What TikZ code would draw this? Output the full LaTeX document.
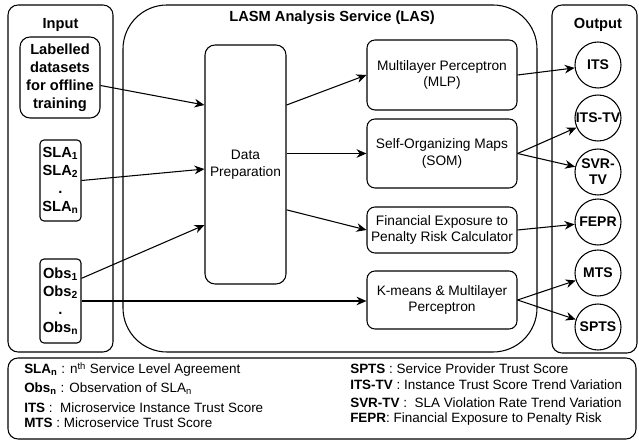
\documentclass[tikz,border=0pt]{standalone}
\usepackage{fontspec}
\setmainfont{Liberation Sans}
\usetikzlibrary{arrows.meta, positioning}

\begin{document}
\begin{tikzpicture}[
    x=0.75pt, y=-0.75pt,
    every node/.style={font=\fontsize{10.3}{12.4}\selectfont},
    group/.style={rectangle, draw, rounded corners=7.5pt, line width=0.8pt},
    grouptitle/.style={font=\fontsize{11}{13}\selectfont\bfseries},
    inbox/.style={rectangle, draw, rounded corners=3pt, line width=0.8pt, align=center, inner sep=0pt, font=\fontsize{11}{13.5}\selectfont\bfseries},
    model/.style={rectangle, draw, rounded corners=6pt, line width=0.8pt, minimum width=112.5pt, inner sep=2pt, align=center},
    result/.style={circle, draw, line width=0.8pt, minimum size=34.5pt, inner sep=0pt, align=center, font=\fontsize{10.5}{12}\selectfont\bfseries},
    key/.style={anchor=base west, inner sep=0pt, font=\fontsize{10.1}{12}\selectfont},
    arrow/.style={-{Stealth[length=7.5pt, width=6.5pt]}, line width=0.8pt},
]
\useasboundingbox (0,0) rectangle (639,441);

% Input column
\node[group, minimum width=78.75pt, minimum height=260.25pt] (input) at (60.5,178.5) {};
\node[grouptitle] (inputtitle) at (60.5,25) {Input};
\node[inbox, rounded corners=7.5pt, minimum width=60pt, minimum height=60.75pt] (labelled) at (60,77.5) {Labelled\\datasets\\for offline\\training};
\node[inbox, minimum width=30.75pt, minimum height=60.75pt] (sla) at (60.5,180.5) {SLA\textsubscript{1}\\SLA\textsubscript{2}\\.\\SLA\textsubscript{n}};
\node[inbox, minimum width=30.75pt, minimum height=63pt] (obs) at (60.5,301) {Obs\textsubscript{1}\\Obs\textsubscript{2}\\.\\Obs\textsubscript{n}};

% Analysis service
\node[group, rounded corners=33pt, minimum width=310.5pt, minimum height=260.25pt] (las) at (330,178.5) {};
\node[grouptitle] (lastitle) at (332,18) {LASM Analysis Service (LAS)};
\node[model, rounded corners=7.5pt, minimum width=60.75pt, minimum height=179.25pt] (prep) at (245.5,164.5) {Data\\Preparation};
\node[model, minimum height=52.5pt] (mlp) at (442,75) {Multilayer Perceptron\\(MLP)};
\node[model, minimum height=51.75pt] (som) at (442,153.5) {Self-Organizing Maps\\(SOM)};
\node[model, minimum height=34.5pt] (fin) at (442,230) {Financial Exposure to\\Penalty Risk Calculator};
\node[model, minimum height=43.5pt] (kmeans) at (442,300) {K-means \& Multilayer\\Perceptron};

% Output column
\node[group, minimum width=63.75pt, minimum height=261pt] (output) at (594.5,179) {};
\node[grouptitle] (outputtitle) at (598,25) {Output};
\node[result] (its) at (598,65) {ITS};
\node[result] (itstv) at (598,118) {ITS-TV};
\node[result] (svrtv) at (598,172) {SVR-\\TV};
\node[result] (fepr) at (598,222) {FEPR};
\node[result] (mts) at (598,273) {MTS};
\node[result] (spts) at (598,327) {SPTS};

% Legend
\node[group, minimum width=471pt, minimum height=60.75pt] (legend) at (322,398.5) {};
\node[key] (kslan) at (24,374) {\textbf{SLA\textsubscript{n}} : n\textsuperscript{th} Service Level Agreement};
\node[key] (kobsn) at (24,393) {\textbf{Obs\textsubscript{n}} : Observation of SLA\textsubscript{n}};
\node[key] (kits) at (24,412) {\textbf{ITS} :\ \ Microservice Instance Trust Score};
\node[key] (kmts) at (24,428) {\textbf{MTS} : Microservice Trust Score};
\node[key] (kspts) at (350,374) {\textbf{SPTS} : Service Provider Trust Score};
\node[key] (kitstv) at (350,390) {\textbf{ITS-TV} : Instance Trust Score Trend Variation};
\node[key] (ksvrtv) at (350,407) {\textbf{SVR-TV} :\ \ SLA Violation Rate Trend Variation};
\node[key] (kfepr) at (350,423) {\textbf{FEPR}: Financial Exposure to Penalty Risk};

% Inputs to data preparation
\draw[arrow] ([yshift=-6pt]labelled.east) -- ([yshift=44.6pt]prep.west);
\draw[arrow] (sla.east) -- ([yshift=-3.4pt]prep.west);
\draw[arrow] ([yshift=17pt]obs.east) -- ([yshift=-45.4pt]prep.west);
\draw[arrow] (obs.east) -- (obs.east -| kmeans.west);

% Data preparation to models
\draw[arrow] ([yshift=44.6pt]prep.east) -- (mlp.west);
\draw[arrow] (prep.east |- som.west) -- (som.west);
\draw[arrow] ([yshift=-34pt]prep.east) -- (fin.west);

% Models to outputs
\draw[arrow] (mlp.east) -- (its);
\draw[arrow] (som.east) -- (itstv);
\draw[arrow] (som.east) -- (svrtv);
\draw[arrow] (fin.east) -- (fepr);
\draw[arrow] (kmeans.east) -- (mts);
\draw[arrow] (kmeans.east) -- (spts);

\end{tikzpicture}
\end{document}
